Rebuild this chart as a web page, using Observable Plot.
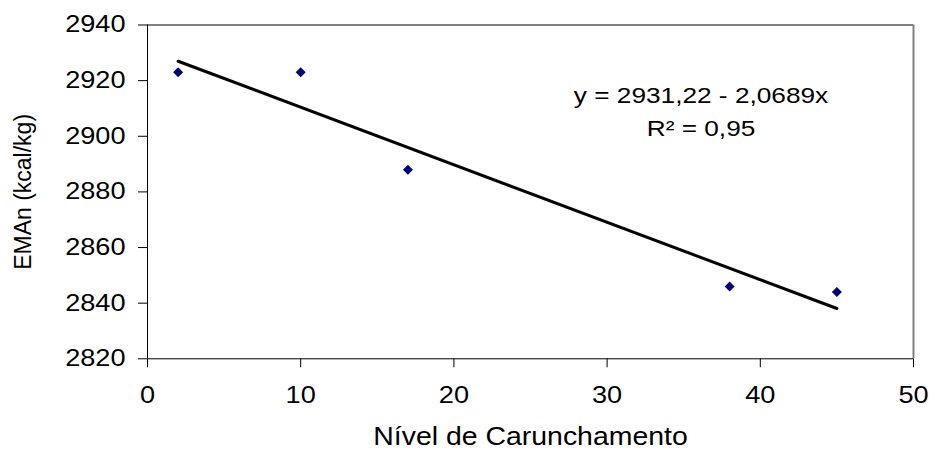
<!DOCTYPE html>
<html>
<head>
<meta charset="utf-8">
<script src="https://cdn.jsdelivr.net/npm/d3@7"></script>
<script src="https://cdn.jsdelivr.net/npm/@observablehq/plot@0.6"></script>
<style>
  html, body { margin: 0; padding: 0; background: #fff; }
  #chart svg { display: block; font-family: "Liberation Sans", Arial, sans-serif; }
</style>
</head>
<body>
<div id="chart"></div>
<script>
// ---- data ----
const nivel = [2, 10, 17, 38, 45];
const eman = [2923, 2923, 2888, 2846, 2844];
const xTicks = [0, 10, 20, 30, 40, 50];
const yTicks = [2820, 2840, 2860, 2880, 2900, 2920, 2940];
const equationText = "y = 2931,22 - 2,0689x";
const r2Text = "R\u00B2 = 0,95";
const xTitle = "Nível de Carunchamento";
const yTitle = "EMAn (kcal/kg)";

const points = nivel.map((x, i) => ({x, y: eman[i]}));

const W = 929, H = 450;
const mL = 147, mR = 16, mT = 24.5, mB = 91.7;

const chart = Plot.plot({
  width: W,
  height: H,
  marginLeft: mL,
  marginRight: mR,
  marginTop: mT,
  marginBottom: mB,
  style: {fontFamily: "'Liberation Sans', Arial, sans-serif", fontSize: "23px", color: "#000", background: "#fff"},
  x: {domain: [0, 50], ticks: xTicks, tickSize: 9, tickPadding: 19, label: null, tickFormat: d => String(d)},
  y: {domain: [2820, 2940], ticks: yTicks, tickSize: 9, tickPadding: 13, label: null, tickFormat: d => String(d)},
  marks: [
    Plot.ruleY([2940], {stroke: "#808080", strokeWidth: 2}),
    Plot.ruleX([50], {stroke: "#808080", strokeWidth: 2}),
    Plot.ruleX([0], {stroke: "#000", strokeWidth: 1}),
    Plot.ruleY([2820], {stroke: "#000", strokeWidth: 1}),
    Plot.linearRegressionY(points, {x: "x", y: "y", ci: 0, stroke: "#000", strokeWidth: 3}),
    Plot.dot(points, {x: "x", y: "y", symbol: "diamond2", r: 4.5, fill: "#000080", stroke: "none"}),
    Plot.text([equationText], {x: 36.13, y: 2914.66, text: d => d, textAnchor: "middle", lineAnchor: "middle", fontSize: 22.5, fill: "#000"}),
    Plot.text([r2Text], {x: 36.13, y: 2902.55, text: d => d, textAnchor: "middle", lineAnchor: "middle", fontSize: 22.5, fill: "#000"}),
    Plot.text([xTitle], {frameAnchor: "bottom", dy: 86.2, text: d => d, textAnchor: "middle", lineAnchor: "bottom", fontSize: 25.5, fill: "#000"}),
    Plot.text([yTitle], {frameAnchor: "left", dx: -117, rotate: -90, text: d => d, textAnchor: "middle", lineAnchor: "bottom", fontSize: 23, fill: "#000"})
  ]
});

document.getElementById("chart").appendChild(chart);

// Horizontal glyph stretch to mimic the reference's wide text rendering
const factors = new Map([
  [equationText, 1.165],
  [r2Text, 1.165],
  [xTitle, 1.115],
  [yTitle, 1.0]
]);
chart.querySelectorAll("text").forEach(t => {
  const s = t.textContent;
  let f = factors.has(s) ? factors.get(s) : (/^\d+$/.test(s) ? 1.18 : 1);
  if (f === 1) return;
  const len = t.getComputedTextLength();
  if (len > 0) {
    t.setAttribute("textLength", (len * f).toFixed(2));
    t.setAttribute("lengthAdjust", "spacingAndGlyphs");
  }
});
</script>
</body>
</html>
